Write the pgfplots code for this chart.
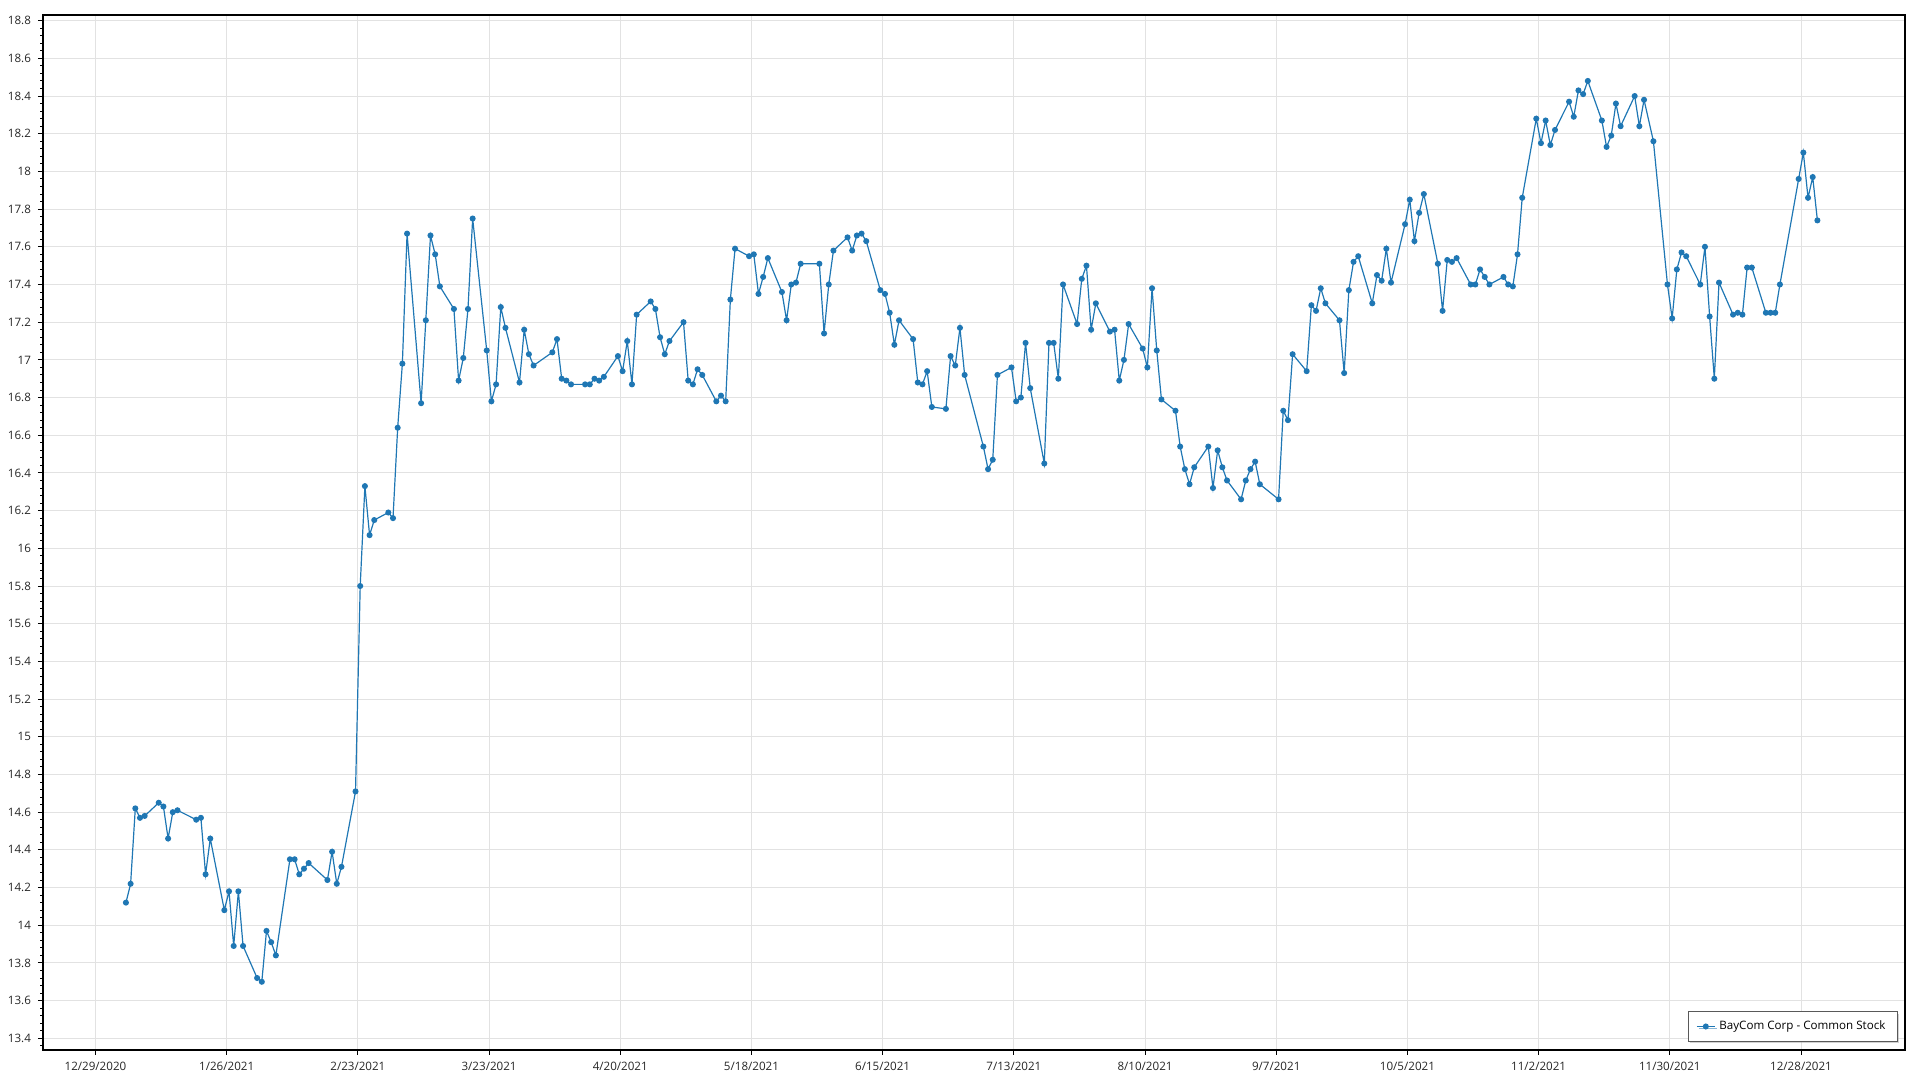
\documentclass[border=0pt]{standalone}
\usepackage{fontspec}
\setmainfont{Open Sans}
\usepackage{pgfplots}
\usepackage{pgfplotstable}
\pgfplotsset{compat=1.18}
\usetikzlibrary{shadows}
\definecolor{series}{RGB}{31,119,180}
\definecolor{gridgray}{RGB}{226,226,226}

% closing price, x = days since 12/29/2020
\pgfplotstableread{
day price
6 14.12
7 14.22
8 14.62
9 14.57
10 14.58
13 14.65
14 14.63
15 14.46
16 14.60
17 14.61
21 14.56
22 14.57
23 14.27
24 14.46
27 14.08
28 14.18
29 13.89
30 14.18
31 13.89
34 13.72
35 13.70
36 13.97
37 13.91
38 13.84
41 14.35
42 14.35
43 14.27
44 14.30
45 14.33
49 14.24
50 14.39
51 14.22
52 14.31
55 14.71
56 15.80
57 16.33
58 16.07
59 16.15
62 16.19
63 16.16
64 16.64
65 16.98
66 17.67
69 16.77
70 17.21
71 17.66
72 17.56
73 17.39
76 17.27
77 16.89
78 17.01
79 17.27
80 17.75
83 17.05
84 16.78
85 16.87
86 17.28
87 17.17
90 16.88
91 17.16
92 17.03
93 16.97
97 17.04
98 17.11
99 16.90
100 16.89
101 16.87
104 16.87
105 16.87
106 16.90
107 16.89
108 16.91
111 17.02
112 16.94
113 17.10
114 16.87
115 17.24
118 17.31
119 17.27
120 17.12
121 17.03
122 17.10
125 17.20
126 16.89
127 16.87
128 16.95
129 16.92
132 16.78
133 16.81
134 16.78
135 17.32
136 17.59
139 17.55
140 17.56
141 17.35
142 17.44
143 17.54
146 17.36
147 17.21
148 17.40
149 17.41
150 17.51
154 17.51
155 17.14
156 17.40
157 17.58
160 17.65
161 17.58
162 17.66
163 17.67
164 17.63
167 17.37
168 17.35
169 17.25
170 17.08
171 17.21
174 17.11
175 16.88
176 16.87
177 16.94
178 16.75
181 16.74
182 17.02
183 16.97
184 17.17
185 16.92
189 16.54
190 16.42
191 16.47
192 16.92
195 16.96
196 16.78
197 16.80
198 17.09
199 16.85
202 16.45
203 17.09
204 17.09
205 16.90
206 17.40
209 17.19
210 17.43
211 17.50
212 17.16
213 17.30
216 17.15
217 17.16
218 16.89
219 17.00
220 17.19
223 17.06
224 16.96
225 17.38
226 17.05
227 16.79
230 16.73
231 16.54
232 16.42
233 16.34
234 16.43
237 16.54
238 16.32
239 16.52
240 16.43
241 16.36
244 16.26
245 16.36
246 16.42
247 16.46
248 16.34
252 16.26
253 16.73
254 16.68
255 17.03
258 16.94
259 17.29
260 17.26
261 17.38
262 17.30
265 17.21
266 16.93
267 17.37
268 17.52
269 17.55
272 17.30
273 17.45
274 17.42
275 17.59
276 17.41
279 17.72
280 17.85
281 17.63
282 17.78
283 17.88
286 17.51
287 17.26
288 17.53
289 17.52
290 17.54
293 17.40
294 17.40
295 17.48
296 17.44
297 17.40
300 17.44
301 17.40
302 17.39
303 17.56
304 17.86
307 18.28
308 18.15
309 18.27
310 18.14
311 18.22
314 18.37
315 18.29
316 18.43
317 18.41
318 18.48
321 18.27
322 18.13
323 18.19
324 18.36
325 18.24
328 18.40
329 18.24
330 18.38
332 18.16
335 17.40
336 17.22
337 17.48
338 17.57
339 17.55
342 17.40
343 17.60
344 17.23
345 16.90
346 17.41
349 17.24
350 17.25
351 17.24
352 17.49
353 17.49
356 17.25
357 17.25
358 17.25
359 17.40
363 17.96
364 18.10
365 17.86
366 17.97
367 17.74
}\prices

\begin{document}
\begin{tikzpicture}
\useasboundingbox (-21.5pt,-15pt) rectangle (938.5pt,525pt);
\begin{axis}[
    at={(0,0)}, anchor=south west,
    scale only axis,
    width=931pt, height=517.5pt,
    xmin=-11.2, xmax=386.2,
    ymin=13.338, ymax=18.83,
    axis line style={black, line width=0.6pt},
    tick align=outside,
    xtick pos=bottom, ytick pos=left,
    xtick={0,28,...,364},
    xticklabels={12/29/2020,1/26/2021,2/23/2021,3/23/2021,4/20/2021,5/18/2021,6/15/2021,7/13/2021,8/10/2021,9/7/2021,10/5/2021,11/2/2021,11/30/2021,12/28/2021},
    ytick distance=0.2,
    minor y tick num=4,
    major tick length=2.5pt,
    minor tick length=1.4pt,
    tick style={black, line width=0.5pt},
    xmajorgrids, ymajorgrids,
    grid style={gridgray, line width=0.5pt},
    tick label style={font=\fontsize{5.8}{7}\selectfont, text=black!85},
    /pgf/number format/assume math mode=true,
    legend style={
        at={(1,0)}, anchor=south east,
        xshift=-3.5pt, yshift=4pt,
        draw=black!65, line width=0.6pt, fill=white,
        font=\fontsize{5.8}{7}\selectfont,
        inner xsep=4pt, inner ysep=2.5pt,
        drop shadow={shadow xshift=1pt, shadow yshift=-1pt, fill=black!35},
    },
    legend cell align=left,
    legend image code/.code={
        \draw[mark repeat=2, mark phase=2] plot coordinates {(0pt,0pt) (4.5pt,0pt) (9pt,0pt)};
    },
]
% points sit half a day right of the date gridlines
\addplot [color=series, line width=0.6pt, mark=*, mark size=1.2pt,
    mark options={fill=series, draw=series}]
    table [x expr=\thisrow{day}+0.5, y=price] {\prices};
\addlegendentry{BayCom Corp - Common Stock}
\end{axis}
\end{tikzpicture}
\end{document}
